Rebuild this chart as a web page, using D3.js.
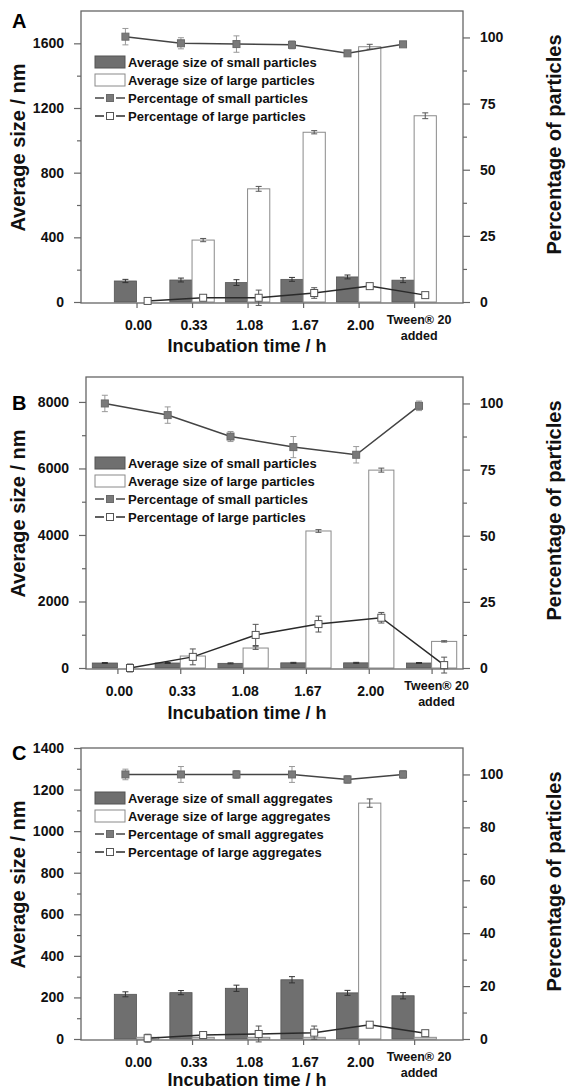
<!DOCTYPE html>
<html>
<head>
<meta charset="utf-8">
<script src="https://cdn.jsdelivr.net/npm/d3@7"></script>
<style>
  body { margin: 0; background: #fff; }
  svg { display: block; font-family: "Liberation Sans", Arial, sans-serif; font-weight: bold; }
</style>
</head>
<body>
<svg id="fig" width="567" height="1092"></svg>
<script>
// categories on the x axis (last one is two lines)
var categories = ["0.00", "0.33", "1.08", "1.67", "2.00", "Tween® 20\nadded"];

// panel A
var aSmallSize = [130, 136, 120, 140, 155, 135];
var aSmallSizeErr = [10, 12, 18, 12, 12, 15];
var aLargeSize = [0, 383, 700, 1050, 1579, 1152];
var aLargeSizeErr = [0, 10, 15, 10, 15, 18];
var aSmallPct = [100.3, 97.8, 97.5, 97.2, 94.0, 97.4];
var aSmallPctErr = [3.1, 2.1, 3.1, 1.5, 0.6, 0];
var aLargePct = [0.4, 1.6, 1.6, 3.4, 6.0, 2.6];
var aLargePctErr = [0.8, 0.5, 2.9, 2.0, 0.5, 0.6];

// panel B
var bSmallSize = [150, 150, 140, 155, 155, 150];
var bSmallSizeErr = [15, 15, 15, 15, 15, 15];
var bLargeSize = [0, 360, 600, 4120, 5950, 800];
var bLargeSizeErr = [0, 30, 40, 40, 60, 20];
var bSmallPct = [100, 95.6, 87.5, 83.5, 80.6, 99.1];
var bSmallPctErr = [3.1, 3.1, 1.9, 4, 3.1, 1.8];
var bLargePct = [0, 4.2, 12.5, 16.6, 19.0, 1.1];
var bLargePctErr = [1.5, 3, 4, 3, 2, 3];

// panel C
var cSmallSize = [215, 223, 244, 285, 222, 208];
var cSmallSizeErr = [12, 10, 15, 15, 12, 15];
var cLargeSize = [8, 8, 8, 8, 1135, 8];
var cLargeSizeErr = [0, 0, 0, 0, 20, 0];
var cSmallPct = [100, 100, 100, 100, 98.1, 100];
var cSmallPctErr = [2, 3, 1.5, 3, 1.5, 1.5];
var cLargePct = [0.3, 1.5, 1.9, 2.4, 5.4, 2.2];
var cLargePctErr = [1.5, 0.5, 3, 2.5, 0.5, 1];

// tick values
var aLeftTicks = [0, 400, 800, 1200, 1600];
var bLeftTicks = [0, 2000, 4000, 6000, 8000];
var cLeftTicks = [0, 200, 400, 600, 800, 1000, 1200, 1400];
var pctTicks25 = [0, 25, 50, 75, 100];
var pctTicks20 = [0, 20, 40, 60, 80, 100];

var particleLegend = ["Average size of small particles", "Average size of large particles",
                      "Percentage of small particles", "Percentage of large particles"];
var aggregateLegend = ["Average size of small aggregates", "Average size of large aggregates",
                       "Percentage of small aggregates", "Percentage of large aggregates"];

var svg = d3.select("#fig");
var AXIS = "#666", GRAYBAR = "#6f6f6f";

function mids(t) {
    var m = [];
    for (var i = 0; i < t.length - 1; i++) m.push((t[i] + t[i + 1]) / 2);
    return m;
}

function errBars(g, xs, vals, errs, y, color, cap) {
    vals.forEach(function(v, i) {
        if (!errs[i]) return;
        var cx = xs(i), y1 = y(v - errs[i]), y2 = y(v + errs[i]);
        g.append("line").attr("x1", cx).attr("x2", cx).attr("y1", y1).attr("y2", y2)
          .attr("stroke", color).attr("stroke-width", 1);
        [y1, y2].forEach(function(yy) {
            g.append("line").attr("x1", cx - cap).attr("x2", cx + cap).attr("y1", yy).attr("y2", yy)
              .attr("stroke", color).attr("stroke-width", 1);
        });
    });
}

function drawPanel(p) {
    var g = svg.append("g");
    var x = d3.scaleLinear().domain(p.xDomain).range([p.left, p.right]);
    var yL = d3.scaleLinear().domain([0, p.leftMax]).range([p.zero, p.top]);
    var yR = d3.scaleLinear().domain([0, 110]).range([p.zero, p.top]);
    var bw = x(0.4) - x(0);
    var xs = function(i) { return x(i) - bw / 2; };
    var xl = function(i) { return x(i) + bw / 2; };

    // bars
    g.selectAll(".sbar").data(p.smallSize).enter().append("rect")
      .attr("x", function(d, i) { return x(i) - bw; })
      .attr("y", function(d) { return yL(d); })
      .attr("width", bw)
      .attr("height", function(d) { return p.zero - yL(d); })
      .attr("fill", GRAYBAR).attr("stroke", "#555").attr("stroke-width", 0.8);
    g.selectAll(".lbar").data(p.largeSize).enter().append("rect")
      .attr("x", function(d, i) { return x(i); })
      .attr("y", function(d) { return yL(d); })
      .attr("width", bw)
      .attr("height", function(d) { return p.zero - yL(d); })
      .attr("fill", "#fff").attr("stroke", "#8a8a8a").attr("stroke-width", 1);
    errBars(g, xs, p.smallSize, p.smallSizeErr, yL, "#333", 3);
    errBars(g, xl, p.largeSize, p.largeSizeErr, yL, "#555", 3);

    // frame
    g.append("rect").attr("x", p.left).attr("y", p.top)
      .attr("width", p.right - p.left).attr("height", p.zero + 1 - p.top)
      .attr("fill", "none").attr("stroke", AXIS).attr("stroke-width", 1.3);

    // left axis
    g.append("g").attr("transform", "translate(" + p.left + ",0)")
      .call(d3.axisLeft(yL).tickValues(p.leftTicks).tickSize(7).tickPadding(10).tickFormat(d3.format("d")));
    g.append("g").attr("transform", "translate(" + p.left + ",0)")
      .call(d3.axisLeft(yL).tickValues(mids(p.leftTicks)).tickSize(4).tickFormat(""));
    // right axis
    g.append("g").attr("transform", "translate(" + p.right + ",0)")
      .call(d3.axisRight(yR).tickValues(p.rightTicks).tickSize(7).tickPadding(10).tickFormat(d3.format("d")));
    g.append("g").attr("transform", "translate(" + p.right + ",0)")
      .call(d3.axisRight(yR).tickValues(mids(p.rightTicks)).tickSize(4).tickFormat(""));
    // bottom axis
    g.append("g").attr("transform", "translate(0," + (p.zero + 1) + ")")
      .call(d3.axisBottom(x).tickValues(d3.range(categories.length)).tickSize(5).tickFormat(""));

    g.selectAll(".domain").remove();
    g.selectAll(".tick line").attr("stroke", AXIS).attr("stroke-width", 1.2);
    g.selectAll(".tick text").attr("font-size", 14).attr("font-family", null).attr("fill", "#111");

    // category labels
    categories.forEach(function(c, i) {
        var parts = c.split("\n");
        if (parts.length === 1) {
            g.append("text").attr("x", x(i) + 2).attr("y", p.zero + 28)
              .attr("text-anchor", "middle").attr("font-size", 14).attr("fill", "#111").text(c);
        } else {
            parts.forEach(function(s, k) {
                g.append("text").attr("x", x(i) + 5).attr("y", p.zero + 22 + k * 16)
                  .attr("text-anchor", "middle").attr("font-size", 12.5).attr("fill", "#111").text(s);
            });
        }
    });

    // percentage lines
    var lineS = d3.line().x(function(d, i) { return xs(i); }).y(function(d) { return yR(d); });
    var lineL = d3.line().x(function(d, i) { return xl(i); }).y(function(d) { return yR(d); });
    g.append("path").attr("d", lineS(p.smallPct)).attr("fill", "none")
      .attr("stroke", "#444").attr("stroke-width", 1.5);
    g.append("path").attr("d", lineL(p.largePct)).attr("fill", "none")
      .attr("stroke", "#2a2a2a").attr("stroke-width", 1.5);
    errBars(g, xs, p.smallPct, p.smallPctErr, yR, "#999", 3);
    errBars(g, xl, p.largePct, p.largePctErr, yR, "#555", 3);

    g.selectAll(".smk").data(p.smallPct).enter().append("rect")
      .attr("x", function(d, i) { return xs(i) - 3.5; })
      .attr("y", function(d) { return yR(d) - 3.5; })
      .attr("width", 7).attr("height", 7)
      .attr("fill", "#7a7a7a").attr("stroke", "#6a6a6a");
    g.selectAll(".lmk").data(p.largePct).enter().append("rect")
      .attr("x", function(d, i) { return xl(i) - 3.5; })
      .attr("y", function(d) { return yR(d) - 3.5; })
      .attr("width", 7).attr("height", 7)
      .attr("fill", "#fff").attr("stroke", "#555").attr("stroke-width", 1);

    // legend
    var lg = g.append("g");
    p.legend.forEach(function(txt, k) {
        var cy = p.legendY + k * 18;
        if (k === 0 || k === 1) {
            lg.append("rect").attr("x", 95).attr("y", cy - 6).attr("width", 30).attr("height", 12)
              .attr("fill", k === 0 ? GRAYBAR : "#fff").attr("stroke", k === 0 ? "#555" : "#8a8a8a");
        } else {
            [[95, 104], [116, 125]].forEach(function(seg) {
                lg.append("line").attr("x1", seg[0]).attr("x2", seg[1]).attr("y1", cy).attr("y2", cy)
                  .attr("stroke", k === 2 ? "#444" : "#2a2a2a").attr("stroke-width", 1.5);
            });
            lg.append("rect").attr("x", 106.5).attr("y", cy - 3.5).attr("width", 7).attr("height", 7)
              .attr("fill", k === 2 ? "#7a7a7a" : "#fff").attr("stroke", k === 2 ? "#6a6a6a" : "#555");
        }
        lg.append("text").attr("x", 128).attr("y", cy + 4.5).attr("font-size", 13)
          .attr("fill", "#111").text(txt);
    });

    // titles
    var mid = (p.top + p.zero) / 2;
    g.append("text").attr("transform", "translate(25," + (mid - 9) + ") rotate(-90)")
      .attr("text-anchor", "middle").attr("font-size", 20).attr("fill", "#111").text("Average size / nm");
    g.append("text").attr("transform", "translate(561," + (mid - 12) + ") rotate(-90)")
      .attr("text-anchor", "middle").attr("font-size", 20).attr("fill", "#111").text("Percentage of particles");
    g.append("text").attr("x", 247).attr("y", p.zero + p.titleOff)
      .attr("text-anchor", "middle").attr("font-size", 18).attr("fill", "#111").text("Incubation time / h");
    g.append("text").attr("x", 12).attr("y", p.letterY).attr("font-size", 20).attr("fill", "#000").text(p.letter);
}

drawPanel({
    letter: "A", letterY: 28, top: 11, zero: 302, left: 81, right: 463, xDomain: [-1, 5.88], titleOff: 50,
    leftMax: 1800, leftTicks: aLeftTicks, rightTicks: pctTicks25, legendY: 62, legend: particleLegend,
    smallSize: aSmallSize, smallSizeErr: aSmallSizeErr, largeSize: aLargeSize, largeSizeErr: aLargeSizeErr,
    smallPct: aSmallPct, smallPctErr: aSmallPctErr, largePct: aLargePct, largePctErr: aLargePctErr
});
drawPanel({
    letter: "B", letterY: 410, top: 377, zero: 668, left: 86, right: 463, xDomain: [-0.5, 5.5], titleOff: 51,
    leftMax: 8750, leftTicks: bLeftTicks, rightTicks: pctTicks25, legendY: 463, legend: particleLegend,
    smallSize: bSmallSize, smallSizeErr: bSmallSizeErr, largeSize: bLargeSize, largeSizeErr: bLargeSizeErr,
    smallPct: bSmallPct, smallPctErr: bSmallPctErr, largePct: bLargePct, largePctErr: bLargePctErr
});
drawPanel({
    letter: "C", letterY: 760, top: 748, zero: 1039, left: 81, right: 463, xDomain: [-1, 5.88], titleOff: 47,
    leftMax: 1400, leftTicks: cLeftTicks, rightTicks: pctTicks20, legendY: 798, legend: aggregateLegend,
    smallSize: cSmallSize, smallSizeErr: cSmallSizeErr, largeSize: cLargeSize, largeSizeErr: cLargeSizeErr,
    smallPct: cSmallPct, smallPctErr: cSmallPctErr, largePct: cLargePct, largePctErr: cLargePctErr
});
</script>
</body>
</html>
